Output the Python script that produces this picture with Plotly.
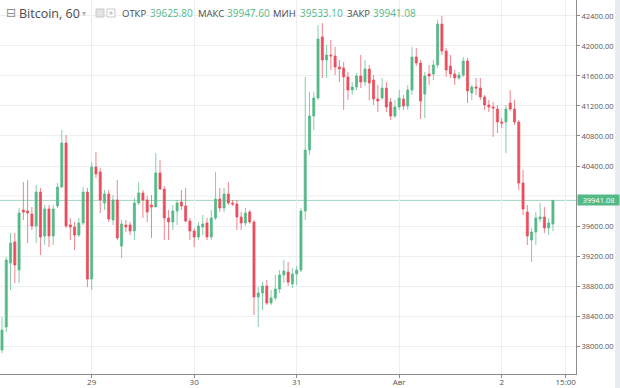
import pandas as pd
import plotly.graph_objects as go

# ---- data (hourly candles) ----
start_time = "2021-07-28 03:00"
n_candles = 130

opens = [37947, 38253, 39107, 39387, 39013, 39813, 39800, 39760, 39600, 40053,
         39467, 39827, 39467, 39867, 40120, 40707, 39613, 39587, 39480, 39640,
         40053, 38893, 40387, 40320, 39907, 40027, 39680, 39947, 39333, 39613,
         39613, 39533, 39907, 40040, 39947, 39880, 39853, 40307, 40093, 39707,
         39653, 39800, 39920, 39867, 39667, 39533, 39453, 39587, 39640, 39453,
         39707, 39960, 39840, 40027, 39907, 39893, 39720, 39640, 39787, 39653,
         38653, 38707, 38800, 38573, 38640, 38760, 38947, 38987, 38827, 38960,
         39013, 39800, 40613, 41067, 41307, 42120, 41813, 41880, 41867, 41720,
         41707, 41587, 41413, 41453, 41600, 41520, 41693, 41547, 41293, 41307,
         41440, 41253, 41067, 41187, 41293, 41200, 41413, 41853, 41773, 41360,
         41627, 41627, 41747, 42293, 41933, 41733, 41627, 41573, 41613, 41800,
         41373, 41453, 41440, 41320, 41213, 41187, 41160, 40987, 40987, 41240,
         41160, 40987, 40173, 39787, 39413, 39520, 39693, 39720, 39573, 39625.80]

highs = [38387, 39187, 39507, 39507, 39840, 40187, 40213, 39853, 40147, 40107,
         39880, 39880, 39880, 40173, 40880, 40813, 39707, 39653, 39707, 40120,
         40107, 40453, 40587, 40373, 40080, 40080, 40013, 40213, 39680, 39680,
         39653, 39973, 40187, 40080, 40000, 40013, 40573, 40480, 40133, 39813,
         39880, 39947, 40080, 40107, 39707, 39573, 39653, 39747, 39707, 39813,
         40320, 40107, 40107, 40187, 39947, 39947, 39787, 39840, 39813, 39680,
         38787, 38853, 38880, 38747, 38947, 39013, 39147, 39120, 39040, 39067,
         39840, 41587, 41387, 41387, 42280, 42307, 42013, 42080, 41987, 41813,
         41787, 41653, 41520, 41640, 41880, 41813, 41747, 41613, 41480, 41573,
         41520, 41307, 41280, 41413, 41347, 41480, 41987, 41973, 41813, 41653,
         41747, 41813, 42347, 42400, 41973, 41880, 41680, 41653, 41853, 41840,
         41480, 41573, 41573, 41347, 41280, 41253, 41213, 41040, 41213, 41413,
         41280, 41013, 40347, 39880, 39573, 39787, 39907, 39853, 39707, 39947.60]

lows = [37907, 38187, 38747, 38840, 38840, 39680, 39373, 39547, 39373, 39213,
        39347, 39320, 39347, 39840, 40107, 39573, 39413, 39280, 39453, 39613,
        38787, 38747, 40240, 39773, 39813, 39653, 39613, 39413, 39173, 39520,
        39480, 39413, 39880, 39707, 39653, 39440, 39853, 40080, 39413, 39413,
        39547, 39613, 39813, 39653, 39413, 39320, 39413, 39480, 39413, 39413,
        39680, 39787, 39787, 39880, 39867, 39547, 39547, 39600, 39627, 38413,
        38253, 38480, 38547, 38547, 38613, 38707, 38840, 38800, 38773, 38813,
        38987, 39680, 40547, 40880, 41280, 41573, 41573, 41680, 41613, 41520,
        41147, 41280, 41347, 41413, 41440, 41467, 41280, 41213, 41120, 41280,
        41120, 41013, 41040, 41147, 41147, 41147, 41347, 41733, 41027, 41040,
        41480, 41547, 41707, 41880, 41587, 41573, 41480, 41547, 41587, 41240,
        41280, 41347, 41280, 41147, 41120, 40787, 40840, 40907, 40573, 41133,
        40947, 40080, 39747, 39347, 39120, 39347, 39653, 39507, 39480, 39533.10]

closes = [38213, 39147, 39373, 39080, 39773, 39787, 39773, 39600, 40053, 39453,
          39827, 39467, 39827, 40120, 40707, 39600, 39587, 39480, 39640, 40053,
          38893, 40387, 40293, 39947, 40027, 39693, 39947, 39440, 39627, 39587,
          39533, 39907, 40040, 39947, 39787, 39853, 40307, 40093, 39707, 39653,
          39800, 39907, 39867, 39667, 39533, 39453, 39600, 39627, 39453, 39707,
          39960, 39840, 40027, 39907, 39893, 39720, 39640, 39773, 39653, 38653,
          38707, 38800, 38573, 38640, 38760, 38947, 39000, 38853, 38960, 39013,
          39800, 40613, 41067, 41307, 42093, 41813, 41880, 41867, 41720, 41693,
          41587, 41413, 41453, 41600, 41520, 41693, 41507, 41293, 41267, 41440,
          41187, 41067, 41187, 41307, 41200, 41413, 41853, 41773, 41267, 41600,
          41600, 41747, 42293, 41933, 41680, 41627, 41573, 41613, 41800, 41400,
          41453, 41440, 41320, 41213, 41187, 41173, 40987, 40973, 41160, 41160,
          40987, 40173, 39827, 39467, 39520, 39707, 39720, 39573, 39640, 39941.08]

tick_dates = ["2021-07-29", "2021-07-30", "2021-07-31", "2021-08-01", "2021-08-02", "2021-08-02 15:00"]
tick_labels = ["29", "30", "31", "Авг", "2", "15:00"]
price_ticks = [38000, 38400, 38800, 39200, 39600, 40400, 40800, 41200, 41600, 42000, 42400]
hidden_tick = 40000  # covered by the last-price label

symbol = "Bitcoin, 60"
ohlc_names = ["ОТКР", "МАКС", "МИН", "ЗАКР"]
ohlc_values = ["39625.80", "39947.60", "39533.10", "39941.08"]
last_price = 39941.08

# ---- styling ----
UP = "#53b987"
DOWN = "#eb4d5c"
GRID = "#eceef2"
AXIS = "#8c8c8c"
TEXT = "#4a4a4a"
FONT = "Open Sans"

times = pd.date_range(start_time, periods=n_candles, freq="h")

fig = go.Figure(go.Candlestick(
    x=times, open=opens, high=highs, low=lows, close=closes,
    increasing=dict(line=dict(color=UP, width=0.7), fillcolor=UP),
    decreasing=dict(line=dict(color=DOWN, width=0.7), fillcolor=DOWN),
    whiskerwidth=0, hoverinfo="skip",
))

W, H = 620, 388
ML, MR, MT, MB = 0, 44, 0, 14
PW, PH = W - ML - MR, H - MT - MB


def px(x):
    return (x - ML) / PW


def py(y):
    return 1 - (y - MT) / PH


fig.update_layout(
    width=W, height=H,
    margin=dict(l=ML, r=MR, t=MT, b=MB),
    paper_bgcolor="white", plot_bgcolor="white",
    showlegend=False,
    font=dict(family=FONT, color=TEXT),
    xaxis=dict(
        type="date", rangeslider=dict(visible=False),
        range=["2021-07-28 02:32", "2021-08-02 17:24"],
        tickvals=tick_dates, ticktext=tick_labels,
        showgrid=True, gridcolor=GRID, gridwidth=1,
        showline=True, linecolor=AXIS, linewidth=1,
        ticks="outside", ticklen=3, tickcolor=AXIS,
        ticklabelstandoff=-3,
        tickfont=dict(size=8, color="#555", family=FONT),
        zeroline=False, fixedrange=True,
    ),
    yaxis=dict(
        side="right", range=[37627, 42613],
        tickvals=price_ticks, tickformat=".2f",
        showgrid=True, gridcolor=GRID, gridwidth=1,
        showline=True, linecolor=AXIS, linewidth=1,
        ticks="outside", ticklen=3, tickcolor=AXIS,
        tickfont=dict(size=7.5, color="#555", family=FONT),
        zeroline=False, fixedrange=True,
    ),
)

shapes = [
    dict(type="line", xref="paper", yref="y", x0=0, x1=1, y0=hidden_tick, y1=hidden_tick,
         line=dict(color=GRID, width=1), layer="below"),
    dict(type="line", xref="paper", yref="y", x0=0, x1=1, y0=last_price, y1=last_price,
         line=dict(color="rgba(83,185,135,0.55)", width=1), layer="below"),
    dict(type="rect", xref="paper", yref="paper", x0=px(615), x1=px(621), y0=py(H), y1=py(0),
         fillcolor="#e9edf3", line=dict(width=0)),
    # header icons
    dict(type="rect", xref="paper", yref="paper", x0=px(96), x1=px(104), y0=py(17), y1=py(9),
         fillcolor="#e4e4e4", line=dict(color="#c8c8c8", width=1)),
    dict(type="rect", xref="paper", yref="paper", x0=px(107), x1=px(115), y0=py(17), y1=py(9),
         fillcolor="#ffffff", line=dict(color="#c8c8c8", width=1)),
    dict(type="rect", xref="paper", yref="paper", x0=px(109.5), x1=px(112.5), y0=py(14.5), y1=py(11.5),
         fillcolor="#c8c8c8", line=dict(width=0)),
]
fig.update_layout(shapes=shapes)

ann = []
HY = 13
ann.append(dict(text="⊟", x=px(4), y=py(HY), xref="paper", yref="paper", xanchor="left", yanchor="middle",
                showarrow=False, font=dict(size=12, color="#8a8a8a", family="DejaVu Sans")))
ann.append(dict(text=symbol, x=px(17), y=py(HY), xref="paper", yref="paper", xanchor="left", yanchor="middle",
                showarrow=False, font=dict(size=12.5, color=TEXT, family=FONT)))
ann.append(dict(text="▾", x=px(80), y=py(HY), xref="paper", yref="paper", xanchor="left", yanchor="middle",
                showarrow=False, font=dict(size=8, color="#b0b0b0", family="DejaVu Sans")))
label_x = [120, 196, 271, 345]
value_x = [148, 225, 298, 371]
for name, val, lx, vx in zip(ohlc_names, ohlc_values, label_x, value_x):
    ann.append(dict(text=name, x=px(lx), y=py(HY), xref="paper", yref="paper", xanchor="left", yanchor="middle",
                    showarrow=False, font=dict(size=9.5, color=TEXT, family=FONT)))
    ann.append(dict(text=val, x=px(vx), y=py(HY), xref="paper", yref="paper", xanchor="left", yanchor="middle",
                    showarrow=False, font=dict(size=10, color=UP, family=FONT)))
# last price label on the axis
ann.append(dict(text=f"{last_price:.2f}", x=px(577), y=last_price, xref="paper", yref="y",
                xanchor="left", yanchor="middle", showarrow=False, bgcolor=UP, width=41, height=10,
                borderpad=0, font=dict(size=7.5, color="white", family=FONT)))
fig.update_layout(annotations=ann)

fig.write_html("out.html", config={"displayModeBar": False, "staticPlot": True},
               post_script="document.body.style.margin='0';document.body.style.overflow='hidden';")
